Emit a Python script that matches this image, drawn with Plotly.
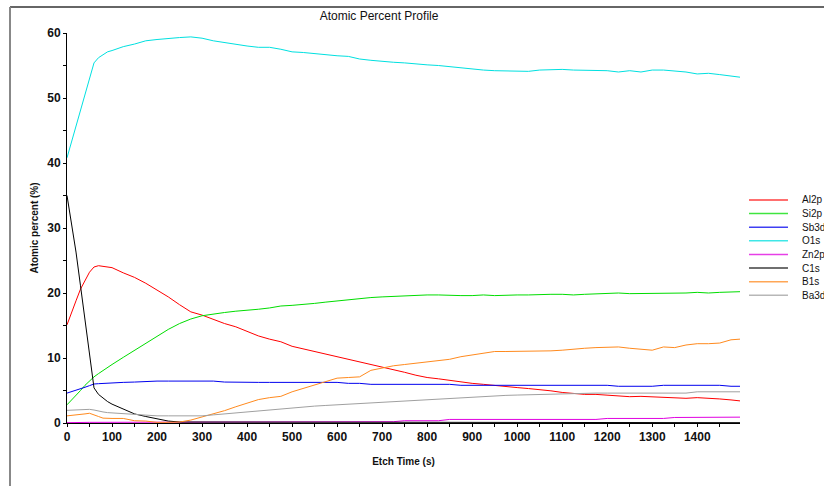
import plotly.graph_objects as go

# Etch time grid (s)
etch_time = [0, 10, 20, 30, 40, 50, 60, 70, 80, 90, 100,
             125, 150, 175, 200, 225, 250, 275, 300, 325, 350, 375, 400,
             425, 450, 475, 500, 525, 550, 575, 600, 625, 650, 675, 700,
             725, 750, 775, 800, 825, 850, 875, 900, 925, 950, 975, 1000,
             1025, 1050, 1075, 1100, 1125, 1150, 1175, 1200, 1225, 1250,
             1275, 1300, 1325, 1350, 1375, 1400, 1425, 1450, 1475, 1495]

al2p = [15.1, 16.8, 18.8, 20.6, 22.0, 23.2, 24.0, 24.2, 24.1, 24.0, 23.9,
        23.1, 22.4, 21.5, 20.5, 19.4, 18.2, 17.1, 16.6, 15.9, 15.3, 14.8, 14.1,
        13.4, 12.9, 12.5, 11.8, 11.4, 11.0, 10.7, 10.3, 9.9, 9.5, 9.1, 8.7,
        8.2, 7.8, 7.35, 7.0, 6.8, 6.55, 6.3, 6.1, 5.95, 5.75, 5.6, 5.45,
        5.3, 5.15, 4.95, 4.7, 4.5, 4.4, 4.4, 4.3, 4.2, 4.05,
        4.1, 4.05, 4.0, 3.85, 3.8, 3.9, 3.85, 3.7, 3.55, 3.4]

si2p = [2.8, 3.5, 4.3, 5.0, 5.8, 6.5, 7.1, 7.6, 8.1, 8.6, 9.0,
        10.1, 11.2, 12.3, 13.4, 14.4, 15.3, 16.0, 16.5, 16.8, 17.0, 17.2, 17.3,
        17.5, 17.7, 18.0, 18.1, 18.2, 18.4, 18.6, 18.8, 18.9, 19.1, 19.3, 19.4,
        19.5, 19.6, 19.7, 19.7, 19.7, 19.6, 19.6, 19.6, 19.7, 19.6, 19.7, 19.7,
        19.7, 19.8, 19.8, 19.8, 19.7, 19.8, 19.9, 19.9, 20.0, 19.9,
        19.9, 20.0, 20.0, 20.0, 20.0, 20.1, 20.0, 20.1, 20.1, 20.2]

sb3d = [4.6, 4.8, 5.0, 5.3, 5.5, 5.75, 6.0, 6.05, 6.1, 6.15, 6.2,
        6.25, 6.3, 6.4, 6.45, 6.45, 6.45, 6.45, 6.45, 6.45, 6.3, 6.25, 6.25,
        6.25, 6.25, 6.25, 6.25, 6.25, 6.25, 6.25, 6.25, 6.1, 6.1, 5.95, 5.95,
        5.95, 5.95, 5.95, 5.95, 5.95, 5.95, 5.8, 5.8, 5.8, 5.8, 5.8, 5.8,
        5.8, 5.8, 5.8, 5.8, 5.8, 5.8, 5.8, 5.8, 5.65, 5.65,
        5.65, 5.65, 5.8, 5.8, 5.8, 5.8, 5.8, 5.8, 5.65, 5.65]

o1s = [40.8, 43.2, 45.6, 48.0, 50.5, 53.0, 55.4, 56.2, 56.7, 57.1, 57.3,
       57.9, 58.3, 58.8, 59.0, 59.2, 59.3, 59.4, 59.2, 58.8, 58.5, 58.2, 58.0,
       57.8, 57.8, 57.5, 57.1, 57.0, 56.8, 56.6, 56.5, 56.4, 56.0, 55.8, 55.6,
       55.5, 55.4, 55.2, 55.1, 55.0, 54.8, 54.6, 54.4, 54.3, 54.2, 54.2, 54.2,
       54.1, 54.3, 54.4, 54.4, 54.3, 54.3, 54.2, 54.2, 54.0, 54.2,
       54.0, 54.3, 54.3, 54.2, 54.0, 53.7, 53.8, 53.6, 53.4, 53.2]

zn2p = [0.05, 0.08, 0.1, 0.1, 0.1, 0.1, 0.1, 0.1, 0.1, 0.1, 0.1,
        0.1, 0.1, 0.1, 0.1, 0.1, 0.1, 0.1, 0.1, 0.1, 0.1, 0.1, 0.1,
        0.1, 0.1, 0.1, 0.1, 0.1, 0.1, 0.2, 0.2, 0.2, 0.2, 0.2, 0.2,
        0.2, 0.35, 0.35, 0.35, 0.35, 0.55, 0.55, 0.55, 0.55, 0.55, 0.55, 0.55,
        0.55, 0.55, 0.55, 0.55, 0.55, 0.55, 0.55, 0.7, 0.7, 0.7,
        0.7, 0.7, 0.7, 0.85, 0.85, 0.85, 0.85, 0.85, 0.85, 0.9]

c1s = [35.0, 30.7, 26.3, 21.1, 15.6, 10.5, 5.4, 4.4, 3.8, 3.3, 2.9,
       2.1, 1.4, 1.0, 0.6, 0.3, 0.15, 0.15, 0.15, 0.15, 0.15, 0.15, 0.15,
       0.15, 0.15, 0.15, 0.15, 0.15, 0.15, 0.15, 0.15, 0.15, 0.15, 0.15, 0.15,
       0.15, 0.15, 0.15, 0.15, 0.15, 0.15, 0.15, 0.05, 0.05, 0.05, 0.05, 0.05,
       0.05, 0.05, 0.05, 0.05, 0.05, 0.05, 0.05, 0.05, 0.15, 0.15,
       0.15, 0.15, 0.15, 0.15, 0.05, 0.05, 0.05, 0.05, 0.05, 0.05]

b1s = [1.1, 1.15, 1.2, 1.3, 1.4, 1.5, 1.3, 1.0, 0.75, 0.7, 0.7,
       0.7, 0.35, 0.3, 0.1, 0.1, 0.15, 0.45, 0.9, 1.35, 1.9, 2.5, 3.1,
       3.6, 3.9, 4.1, 4.8, 5.3, 5.8, 6.4, 6.9, 7.0, 7.1, 8.1, 8.5,
       8.8, 9.0, 9.2, 9.3, 9.5, 9.8, 10.2, 10.5, 10.75, 11.0, 11.0, 11.0,
       11.1, 11.1, 11.1, 11.2, 11.4, 11.5, 11.6, 11.6, 11.7, 11.5,
       11.4, 11.2, 11.7, 11.6, 12.0, 12.2, 12.2, 12.3, 12.8, 12.9]

ba3d = [1.95, 2.0, 2.05, 2.1, 2.1, 2.1, 2.0, 1.8, 1.7, 1.6, 1.55,
        1.45, 1.3, 1.15, 1.1, 1.1, 1.1, 1.1, 1.1, 1.25, 1.4, 1.55, 1.7,
        1.85, 2.0, 2.2, 2.4, 2.5, 2.6, 2.7, 2.8, 2.9, 3.0, 3.1, 3.2,
        3.3, 3.4, 3.5, 3.65, 3.75, 3.85, 3.95, 4.05, 4.15, 4.2, 4.25, 4.3,
        4.35, 4.4, 4.45, 4.55, 4.6, 4.65, 4.6, 4.6, 4.6, 4.6,
        4.6, 4.6, 4.6, 4.6, 4.6, 4.8, 4.8, 4.8, 4.8, 4.8]

series_names = ["Al2p", "Si2p", "Sb3d", "O1s", "Zn2p", "C1s", "B1s", "Ba3d"]
series_values = [al2p, si2p, sb3d, o1s, zn2p, c1s, b1s, ba3d]
series_colors = ["#ff0000", "#00dd00", "#0000ee", "#00e0e0",
                 "#e000e0", "#000000", "#ff8a1e", "#a0a0a0"]

fig = go.Figure()
for name, vals, col in zip(series_names, series_values, series_colors):
    fig.add_trace(go.Scatter(x=etch_time, y=vals, name=name, mode="lines",
                             line=dict(color=col, width=1), showlegend=False))

# Legend drawn as a compact key to the right of the plot
leg_x0, leg_x1, leg_tx = 1.0134, 1.0713, 1.0891
leg_y0, leg_dy = 0.5718, 0.0349
for i, (name, col) in enumerate(zip(series_names, series_colors)):
    yy = leg_y0 - i * leg_dy
    fig.add_shape(type="line", xref="paper", yref="paper",
                  x0=leg_x0, x1=leg_x1, y0=yy, y1=yy,
                  line=dict(color=col, width=1.5), opacity=0.75)
    fig.add_annotation(xref="paper", yref="paper", x=leg_tx, y=yy,
                       text=name, showarrow=False, xanchor="left",
                       yanchor="middle",
                       font=dict(family="Liberation Sans, Arial", size=10,
                                 color="#111111"))

# Frame lines along the top and left of the page
fig.add_shape(type="line", xref="paper", yref="paper",
              x0=-0.0847, x1=1.13, y0=1.0667, y1=1.0667,
              line=dict(color="#333333", width=1.5))
fig.add_shape(type="line", xref="paper", yref="paper",
              x0=-0.0847, x1=-0.0847, y0=1.0667, y1=-0.17,
              line=dict(color="#888888", width=2))

axis_font = dict(family="Liberation Sans, Arial", size=12, color="#111111")
title_font = dict(family="Liberation Sans, Arial", size=10, color="#111111")

fig.update_layout(
    width=824, height=486,
    margin=dict(l=67, r=84, t=33, b=63),
    paper_bgcolor="white", plot_bgcolor="white",
    title=dict(text="Atomic Percent Profile", x=0.46, xanchor="center",
               y=1 - 16 / 486, yanchor="middle", yref="container",
               font=dict(family="Liberation Sans, Arial", size=12,
                         color="#111111")),
    xaxis=dict(range=[0, 1495], tickvals=list(range(0, 1401, 100)),
               showgrid=False, zeroline=False, showline=True,
               linecolor="black", linewidth=1,
               ticks="outside", ticklen=3, tickcolor="black",
               minor=dict(dtick=50, tick0=0, ticks="outside", ticklen=3,
                          tickcolor="black", showgrid=False),
               tickfont=dict(axis_font, weight="bold"),
               title=dict(text="Etch Time (s)",
                          font=dict(title_font, weight="bold"), standoff=14)),
    yaxis=dict(range=[0, 60], dtick=10, tick0=0,
               showgrid=False, zeroline=False, showline=True,
               linecolor="black", linewidth=1,
               ticks="outside", ticklen=3, tickcolor="black",
               minor=dict(dtick=5, ticks="outside", ticklen=3,
                          tickcolor="black", showgrid=False),
               tickfont=dict(axis_font, weight="bold"),
               title=dict(text="Atomic percent (%)",
                          font=dict(title_font, weight="bold"), standoff=6)),
    # Companion axes supplying the inner half of the crossing tick marks
    xaxis2=dict(matches="x", overlaying="x", anchor="y", side="bottom",
                showgrid=False, zeroline=False, showline=False,
                showticklabels=False, tickvals=list(range(0, 1401, 50)),
                ticks="inside", ticklen=2, tickcolor="black"),
    yaxis2=dict(matches="y", overlaying="y", anchor="x", side="left",
                showgrid=False, zeroline=False, showline=False,
                showticklabels=False, tick0=0, dtick=5,
                ticks="inside", ticklen=2, tickcolor="black"),
)

fig.write_html("out.html")
